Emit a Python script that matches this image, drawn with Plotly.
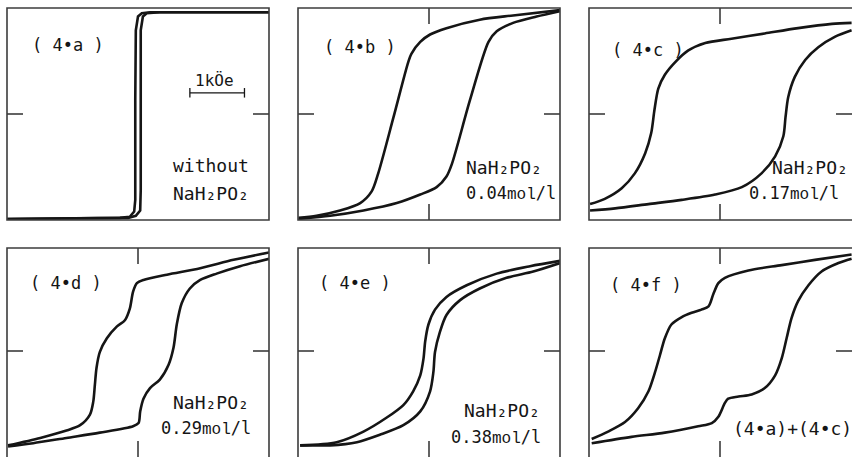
import plotly.graph_objects as go

# ---------------- data (H in kOe, M normalised) ----------------
a_down_H = [2.40, 0.22, 0.07, 0.0, -0.04, -0.05, -0.05, -0.07, -0.15, -0.33, -2.40]
a_down_M = [0.96, 0.96, 0.95, 0.92, 0.79, 0.13, -0.81, -0.92, -0.97, -0.98, -0.99]
a_up_H = [-2.40, -0.18, -0.04, 0.04, 0.05, 0.05, 0.09, 0.16, 0.40, 2.40]
a_up_M = [-0.99, -0.98, -0.96, -0.91, -0.72, 0.79, 0.92, 0.95, 0.96, 0.96]

b_down_H = [2.40, 1.54, 0.93, 0.32, 0.02, -0.16, -0.32, -0.38, -0.65, -0.93, -1.05, -1.26, -1.63, -2.06, -2.39]
b_down_M = [0.98, 0.93, 0.89, 0.81, 0.75, 0.68, 0.57, 0.49, -0.03, -0.56, -0.73, -0.84, -0.91, -0.96, -0.98]
b_up_H = [-2.39, -1.81, -1.20, -0.59, -0.16, 0.14, 0.32, 0.42, 0.75, 1.09, 1.24, 1.54, 1.97, 2.40]
b_up_M = [-0.99, -0.96, -0.91, -0.84, -0.76, -0.69, -0.59, -0.47, 0.13, 0.68, 0.78, 0.86, 0.92, 0.97]

c_down_H = [2.41, 2.05, 1.43, 0.82, 0.21, -0.27, -0.58, -0.82, -1.01, -1.13, -1.20, -1.26, -1.37, -1.56, -1.80, -2.11, -2.38]
c_down_M = [0.86, 0.85, 0.81, 0.76, 0.71, 0.67, 0.60, 0.49, 0.37, 0.24, 0.04, -0.18, -0.37, -0.56, -0.70, -0.80, -0.85]
c_up_H = [-2.38, -1.92, -1.31, -0.70, -0.09, 0.40, 0.76, 1.01, 1.16, 1.20, 1.25, 1.37, 1.56, 1.80, 2.11, 2.41]
c_up_M = [-0.91, -0.89, -0.85, -0.81, -0.76, -0.69, -0.56, -0.40, -0.21, -0.03, 0.16, 0.35, 0.51, 0.63, 0.73, 0.79]

d_down_H = [2.40, 1.75, 1.14, 0.53, 0.10, -0.02, -0.09, -0.15, -0.24, -0.39, -0.57, -0.70, -0.76, -0.79, -0.82, -0.88, -1.06, -1.31, -1.79, -2.38]
d_down_M = [0.93, 0.86, 0.78, 0.72, 0.67, 0.64, 0.56, 0.40, 0.29, 0.23, 0.12, -0.01, -0.16, -0.32, -0.48, -0.60, -0.70, -0.75, -0.82, -0.89]
d_up_H = [-2.38, -1.92, -1.31, -0.70, -0.09, 0.01, 0.04, 0.10, 0.22, 0.40, 0.56, 0.65, 0.71, 0.80, 0.95, 1.14, 1.44, 1.87, 2.40]
d_up_M = [-0.90, -0.87, -0.82, -0.77, -0.71, -0.68, -0.57, -0.45, -0.35, -0.27, -0.13, 0.03, 0.25, 0.45, 0.59, 0.67, 0.73, 0.80, 0.87]

e_down_H = [2.40, 1.85, 1.24, 0.69, 0.32, 0.11, -0.01, -0.07, -0.10, -0.16, -0.29, -0.47, -0.78, -1.20, -1.69, -2.36]
e_down_M = [0.85, 0.80, 0.73, 0.62, 0.51, 0.39, 0.25, 0.09, -0.07, -0.23, -0.38, -0.51, -0.63, -0.76, -0.86, -0.89]
e_up_H = [-2.36, -1.81, -1.32, -0.90, -0.47, -0.16, 0.02, 0.08, 0.11, 0.20, 0.32, 0.57, 0.93, 1.42, 1.91, 2.40]
e_up_M = [-0.89, -0.89, -0.86, -0.79, -0.70, -0.57, -0.38, -0.20, -0.01, 0.18, 0.34, 0.48, 0.59, 0.69, 0.75, 0.83]

f_down_H = [2.41, 1.74, 1.13, 0.52, 0.09, -0.03, -0.12, -0.21, -0.34, -0.52, -0.70, -0.89, -1.01, -1.10, -1.19, -1.31, -1.50, -1.74, -2.05, -2.35]
f_down_M = [0.91, 0.86, 0.81, 0.76, 0.69, 0.64, 0.54, 0.42, 0.39, 0.36, 0.32, 0.25, 0.12, -0.04, -0.20, -0.38, -0.54, -0.67, -0.76, -0.83]
f_up_H = [-2.35, -1.62, -1.01, -0.40, -0.15, -0.03, 0.09, 0.15, 0.34, 0.58, 0.82, 1.01, 1.13, 1.22, 1.31, 1.43, 1.62, 1.86, 2.17, 2.41]
f_up_M = [-0.87, -0.81, -0.77, -0.71, -0.68, -0.62, -0.49, -0.45, -0.43, -0.41, -0.35, -0.23, -0.07, 0.12, 0.31, 0.47, 0.62, 0.75, 0.83, 0.87]

panel_labels = ["( 4•a )", "( 4•b )", "( 4•c )", "( 4•d )", "( 4•e )", "( 4•f )"]
salt = "NaH₂PO₂"
conc_values = ["0.04", "0.17", "0.29", "0.38"]
scale_label = "1kÖe"
scale_bar_H = [0.95, 1.95]
scale_bar_M = 0.20

curves = [
    (a_down_H, a_down_M, a_up_H, a_up_M),
    (b_down_H, b_down_M, b_up_H, b_up_M),
    (c_down_H, c_down_M, c_up_H, c_up_M),
    (d_down_H, d_down_M, d_up_H, d_up_M),
    (e_down_H, e_down_M, e_up_H, e_up_M),
    (f_down_H, f_down_M, f_up_H, f_up_M),
]

# ---------------- layout geometry (pixels) ----------------
W, H = 852, 457
cols = [(7, 269, 138), (298, 560, 429), (589, 852, 720)]
rows = [(8, 220, 114), (248, 457, 351)]
PX_PER_KOE = 54.6
PX_PER_M = 106.0
FONT = "DejaVu Sans Mono"
INK = "#151515"

def px(x, y):
    return x / W, 1 - y / H

fig = go.Figure()
layout = dict(width=W, height=H, margin=dict(l=0, r=0, t=0, b=0),
              paper_bgcolor="white", plot_bgcolor="white", showlegend=False)
shapes = []
annotations = []

for i in range(6):
    r, c = divmod(i, 3)
    xl, xr, xc = cols[c]
    yt, yb, yc = rows[r]
    n = i + 1
    xa = "x" if n == 1 else f"x{n}"
    ya = "y" if n == 1 else f"y{n}"
    xkey = "xaxis" if n == 1 else f"xaxis{n}"
    ykey = "yaxis" if n == 1 else f"yaxis{n}"
    layout[xkey] = dict(domain=[xl / W, xr / W],
                        range=[(xl - xc) / PX_PER_KOE, (xr - xc) / PX_PER_KOE],
                        anchor=ya, showgrid=False, zeroline=False, showline=False,
                        showticklabels=False, ticks="", fixedrange=True)
    layout[ykey] = dict(domain=[1 - yb / H, 1 - yt / H],
                        range=[(yc - yb) / PX_PER_M, (yc - yt) / PX_PER_M],
                        anchor=xa, showgrid=False, zeroline=False, showline=False,
                        showticklabels=False, ticks="", fixedrange=True)

    dH, dM, uH, uM = curves[i]
    shape_mode = "linear" if i == 0 else "spline"
    for hh, mm in ((dH, dM), (uH, uM)):
        fig.add_trace(go.Scatter(x=hh, y=mm, mode="lines", xaxis=xa, yaxis=ya,
                                 line=dict(color=INK, width=2.6, shape=shape_mode,
                                           smoothing=0.8),
                                 hoverinfo="skip"))

    # frame (paper coords; bottom row / right column extend past the picture)
    x0, y1 = px(xl, yt)
    x1, y0 = px(xr if c < 2 else xr + 4, yb if r == 0 else yb + 6)
    shapes.append(dict(type="rect", xref="paper", yref="paper", x0=x0, x1=x1, y0=y0, y1=y1,
                       line=dict(color="#3c3c3c", width=1.6), layer="above"))
    # side ticks at M = 0
    tk_x = 16 / (xr - xl)
    tk_y = 16 / (yb - yt)
    for a0, a1 in ((0, tk_x), (1 - tk_x, 1)):
        shapes.append(dict(type="line", xref=f"{xa} domain", yref=ya, x0=a0, x1=a1, y0=0, y1=0,
                           line=dict(color="#3c3c3c", width=1.6)))
    if i != 0:
        for b0, b1 in ((0, tk_y), (1 - tk_y, 1)):
            shapes.append(dict(type="line", xref=xa, yref=f"{ya} domain", x0=0, x1=0, y0=b0, y1=b1,
                               line=dict(color="#3c3c3c", width=1.6)))

# panel labels
label_pos = [(30, 45), (322, 47), (610, 50), (28, 283), (317, 283), (608, 285)]
for txt, (lx, ly) in zip(panel_labels, label_pos):
    ax_, ay_ = px(lx, ly)
    annotations.append(dict(text=txt, x=ax_, y=ay_, xref="paper", yref="paper",
                            xanchor="left", yanchor="middle", showarrow=False,
                            font=dict(family=FONT, size=17, color=INK)))

def note(txt, lx, ly, size=17):
    ax_, ay_ = px(lx, ly)
    annotations.append(dict(text=txt, x=ax_, y=ay_, xref="paper", yref="paper",
                            xanchor="left", yanchor="middle", showarrow=False,
                            font=dict(family=FONT, size=size, color=INK)))

def conc(v):
    return f"{v}<span style='font-family:Liberation Mono;font-size:16px'>mol</span>/l"

note("without", 171, 165, 18)
note(salt, 171, 193, 18)
note(salt, 464, 167, 18)
note(conc(conc_values[0]), 464, 193)
note(salt, 770, 167, 18)
note(conc(conc_values[1]), 747, 193)
note(salt, 171, 402, 18)
note(conc(conc_values[2]), 159, 428)
note(salt, 462, 410, 18)
note(conc(conc_values[3]), 449, 437)
note("(4•a)+(4•c)", 731, 428, 18)
note(scale_label, 193, 80, 16)

# 1 kOe scale bar in panel a
shapes.append(dict(type="line", xref="x", yref="y", x0=scale_bar_H[0], x1=scale_bar_H[1],
                   y0=scale_bar_M, y1=scale_bar_M, line=dict(color=INK, width=1.3)))
for hb in scale_bar_H:
    shapes.append(dict(type="line", xref="x", yref="y", x0=hb, x1=hb,
                       y0=scale_bar_M - 0.045, y1=scale_bar_M + 0.045,
                       line=dict(color=INK, width=1.3)))

layout["shapes"] = shapes
layout["annotations"] = annotations
fig.update_layout(**layout)
fig.write_html("out.html")
